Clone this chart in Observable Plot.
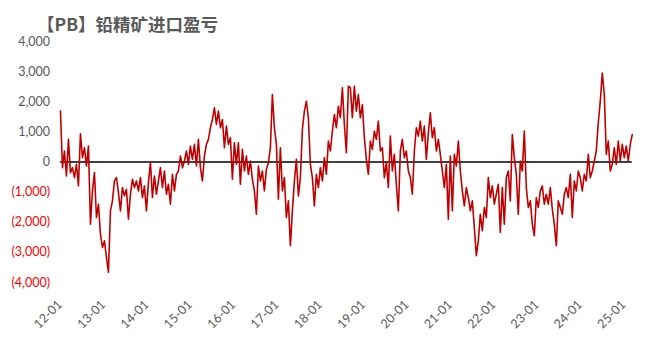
<!DOCTYPE html>
<html><head><meta charset="utf-8">
<script src="https://cdn.jsdelivr.net/npm/d3@7"></script>
<script src="https://cdn.jsdelivr.net/npm/@observablehq/plot@0.6"></script>
<style>
body{margin:0;background:#fff;}
#wrap{position:relative;width:661px;height:339px;overflow:hidden;}
#title{position:absolute;left:37px;top:11px;font-family:"Noto Sans CJK SC";font-weight:bold;font-size:17.5px;color:#595959;white-space:nowrap;z-index:2;}
#chart{position:absolute;left:0;top:0;}
</style></head><body>
<div id="wrap"><div id="title"></div><div id="chart"></div></div>
<script>
const title = "【PB】铅精矿进口盈亏";
const seriesStart = Date.UTC(2011, 11, 19);
const stepDays = 16.85;
const values = [
1688,-188,364,-463,750,-353,-188,-518,-77,-794,938,143,474,-132,529,-2063,-960,-353,-1842,-1401,-2394,-2835,-2614,-3166,-3662,-1621,-1290,-629,-518,-1015,-1621,-849,-1125,-904,-1897,-1070,-574,-849,-629,-960,-518,-1180,-794,-1621,-684,-22,-1180,-463,-1070,-629,-188,-849,-298,-1070,-739,-1401,-408,-960,-408,-298,199,-188,33,364,-77,529,88,585,-132,750,-188,-629,200,
585,750,1136,1412,1798,1246,1688,1136,1412,474,1191,585,805,-574,640,-77,640,-739,419,-298,199,-408,33,-574,-960,-1732,-132,-629,-298,-960,-243,-22,474,2239,1136,585,-1235,474,-960,-518,-1842,-1290,-2780,-1621,-629,88,-1125,-518,1081,1688,2019,1467,-77,-518,-1456,-408,-849,-188,-629,143,-408,695,364,1026,1577,1136,1853,1467,2460,1246,309,2515,
2460,1467,2515,1688,2239,1467,1908,805,88,-408,695,419,1026,750,1357,364,474,-518,-22,-849,860,-298,254,-739,-1621,364,750,143,364,-298,-518,-1070,364,1136,860,1357,695,1191,88,971,1632,805,1136,364,750,254,-298,-849,-77,-1897,199,-1621,254,-132,695,-298,-960,-1456,-849,-1180,-1621,-1290,-2173,-3110,-2614,-1732,-2283,-1511,-1842,-518,-1180,-794,-1401,
-1070,-739,-2338,-849,-2063,-518,-298,-1290,915,143,-408,-1732,33,-298,1026,-849,-1511,-1290,-2063,-2449,-1180,-1511,-960,-794,-1401,-1070,-1401,-849,-1566,-2063,-2780,-1290,-1511,-1732,-1070,-849,-1180,-408,-1842,-629,-960,-298,-518,-960,-408,-629,254,-518,-298,33,364,1302,2019,2956,2239,254,695,-298,-77,474,-77,695,33,585,143,529,33,585,915
];
const yTicksPos = [0, 1000, 2000, 3000, 4000];
const yTicksNeg = [-1000, -2000, -3000, -4000];
const xTickYears = [2012,2013,2014,2015,2016,2017,2018,2019,2020,2021,2022,2023,2024,2025];

document.getElementById("title").textContent = title;

const data = values.map((v, i) => ({date: new Date(seriesStart + i * stepDays * 864e5), value: v}));
const xTicks = xTickYears.map(y => new Date(Date.UTC(y, 0, 1)));
const fmtPos = d3.format(",");
const fmtNeg = d => "(" + d3.format(",")(-d) + ")";
const fmtX = d3.utcFormat("%y-%m");

const chart = Plot.plot({
  width: 661,
  height: 339,
  marginLeft: 61.5,
  marginRight: 36,
  marginTop: 41,
  marginBottom: 57,
  style: {fontFamily: "Lato, 'Open Sans', sans-serif", fontSize: "12.5px", background: "white"},
  x: {type: "utc", domain: [xTicks[0], xTicks[xTicks.length - 1]]},
  y: {domain: [-4000, 4000]},
  marks: [
    Plot.axisY(yTicksPos, {tickSize: 0, tickPadding: 12, tickFormat: fmtPos, fill: "#595959", label: null, fontSize: 12.5}),
    Plot.axisY(yTicksNeg, {tickSize: 0, tickPadding: 12, tickFormat: fmtNeg, fill: "#FF0000", label: null, fontSize: 12.5}),
    Plot.axisX(xTicks, {tickSize: 0, tickPadding: 20, tickRotate: -45, tickFormat: fmtX, fill: "#595959", label: null, fontSize: 12.5, dx: -2}),
    Plot.ruleY([0], {x1: () => data[0].date, x2: () => data[data.length - 1].date, stroke: "black", strokeWidth: 1.4}),
    Plot.line(data, {x: "date", y: "value", stroke: "#C00000", strokeWidth: 1.6})
  ]
});
document.getElementById("chart").appendChild(chart);
</script>
</body></html>
